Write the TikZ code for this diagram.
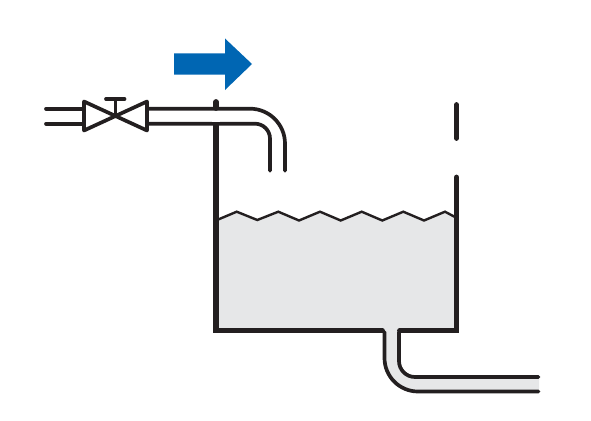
\documentclass[tikz,border=0pt]{standalone}
\definecolor{ink}{HTML}{231F20}
\definecolor{water}{HTML}{E6E7E8}
\definecolor{flow}{HTML}{0066B3}
\tikzset{
  pipe/.style={draw=ink,line width=3.7pt,line cap=round,line join=miter},
  wall/.style={draw=ink,line width=5.8pt,line cap=round,line join=miter},
  wave/.style={draw=ink,line width=2.4pt,line join=miter},
}
\begin{document}
\begin{tikzpicture}[x=1pt,y=-1pt]
\useasboundingbox (0,0) rectangle (591,420);
% water and outlet fill
\fill[water] (216,220) -- (236.7,211.7) -- (257.3,220) -- (278.3,211.7) -- (299,220.5) -- (320,211.7) -- (340.7,220.5) -- (361.7,211.7) -- (382.3,220.5) -- (403.3,211.7) -- (424,220.5) -- (445,211.7) -- (457,218) -- (457,330) -- (216,330) -- cycle;
\fill[water] (384,328) -- (384,358) arc[start angle=180,end angle=90,radius=34] -- (539,392) -- (539,377) -- (415,377) arc[start angle=90,end angle=180,radius=16] -- (399,328) -- cycle;
% wave
\draw[wave] (217,220) -- (236.7,211.7) -- (257.3,220) -- (278.3,211.7) -- (299,220.5) -- (320,211.7) -- (340.7,220.5) -- (361.7,211.7) -- (382.3,220.5) -- (403.3,211.7) -- (424,220.5) -- (445,211.7) -- (455,217);
% tank walls
\draw[wall] (216,102) -- (216,108);
\draw[wall] (216,124) -- (216,330.5) -- (382,330.5);
\draw[wall] (400,330.5) -- (456.5,330.5) -- (456.5,177.5);
\draw[wall] (456.5,105) -- (456.5,138);
% inlet pipe
\draw[pipe] (46,108.7) -- (84,108.7);
\draw[pipe] (46,123.7) -- (84,123.7);
\draw[pipe] (147,108.7) -- (250,108.7) arc[start angle=-90,end angle=0,radius=35] -- (285,170.7);
\draw[pipe] (147,123.7) -- (255,123.7) arc[start angle=-90,end angle=0,radius=15] -- (270,170.7);
% interior of the pipe where it crosses the wall
\fill[white] (212,111) rectangle (220,121.6);
% valve
\draw[pipe,line join=round] (84,101.5) -- (147,130.5) -- (147,101.5) -- (84,130.5) -- cycle;
\draw[pipe,line cap=butt] (115.5,115.5) -- (115.5,99);
\draw[pipe] (106,99) -- (124.5,99);
% outlet pipe
\draw[pipe] (384.5,332) -- (384.5,358) arc[start angle=180,end angle=90,radius=33.5] -- (538.5,391.5);
\draw[pipe] (399,332) -- (399,361) arc[start angle=180,end angle=90,radius=16] -- (538.5,377);
% flow arrow
\fill[flow] (174,53.5) -- (225,53.5) -- (225,38.5) -- (252,64) -- (225,90) -- (225,74.5) -- (174,74.5) -- cycle;
\end{tikzpicture}
\end{document}
